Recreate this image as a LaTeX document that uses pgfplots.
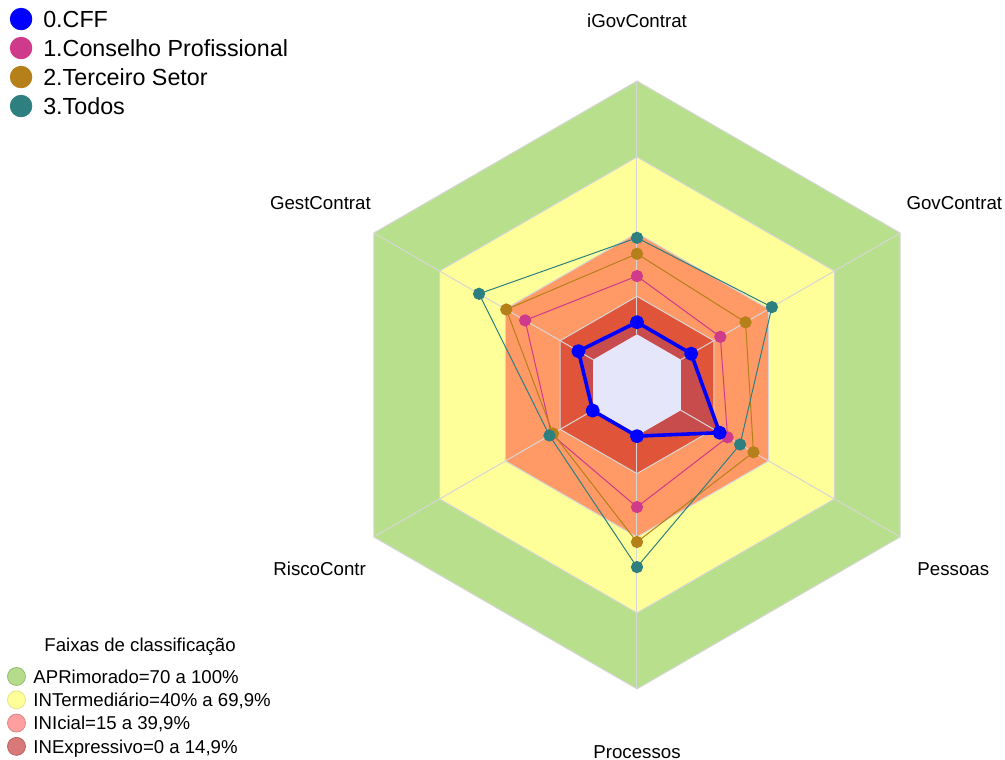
\documentclass[border=0pt]{standalone}
\usepackage{fontspec}
\setmainfont{Liberation Sans}
\usepackage{pgfplots}
\usepackage{pgfplotstable}
\usepgfplotslibrary{polar}
\pgfplotsset{compat=1.18}

\definecolor{cgreen}{HTML}{B8E08C}
\definecolor{cyellow}{HTML}{FFFF99}
\definecolor{corange}{HTML}{FF9966}
\definecolor{cdred}{HTML}{E0553A}
\definecolor{cfffill}{HTML}{C84C4C}
\definecolor{clav}{HTML}{E6E6FA}
\definecolor{cff}{HTML}{0000FF}
\definecolor{ccons}{HTML}{CF3A8A}
\definecolor{cterc}{HTML}{B5801A}
\definecolor{ctodos}{HTML}{2E8080}
\definecolor{cgrid}{HTML}{D6D6D6}
\definecolor{lgapr}{HTML}{B5DC8A}
\definecolor{lgint}{HTML}{FFFF99}
\definecolor{lgini}{HTML}{FF9E9E}
\definecolor{lginex}{HTML}{D87878}

% scores per axis (percent)
\pgfplotstableread{
ang  cff   cons  terc  todos
90   4.8   23.0  31.8  38.1
30   4.7   18.0  29.5  41.5
-30  17.7  21.3  33.1  27.0
-90  0.2   28.2  42.0  51.9
-150 0.2   19.0  18.3  19.9
150  6.7   31.0  39.6  52.0
}\scores

% band limits (percent)
\pgfplotstableread{
ang  apr  int  ini  inex zero
90   100  70   40   15   0
30   100  70   40   15   0
-30  100  70   40   15   0
-90  100  70   40   15   0
-150 100  70   40   15   0
150  100  70   40   15   0
}\bands

\begin{document}
\begin{tikzpicture}
\begin{axis}[
  x=1.2667pt, y=1.2667pt,
  xmin=-251.5, xmax=145.3, ymin=-148.0, ymax=152.0,
  hide axis, clip=false,
  legend cell align=left,
  legend style={at={(axis cs:-247.6,150.2)}, anchor=north west, draw=none, fill=none,
    inner sep=0pt, outer sep=0pt, row sep=0pt,
    font=\fontsize{11.65}{14}\selectfont,
    nodes={inner xsep=0pt, inner ysep=0.9pt, text height=10.5pt, text depth=2.2pt},
    /tikz/every odd column/.append style={column sep=5.5pt}},
]
\path (rel axis cs:0,0) rectangle (rel axis cs:1,1);

\addlegendimage{legend image code/.code={\fill[cff] (0pt,0pt) circle (5.4pt);}}
\addlegendentry{0.CFF}
\addlegendimage{legend image code/.code={\fill[ccons] (0pt,0pt) circle (5.4pt);}}
\addlegendentry{1.Conselho Profissional}
\addlegendimage{legend image code/.code={\fill[cterc] (0pt,0pt) circle (5.4pt);}}
\addlegendentry{2.Terceiro Setor}
\addlegendimage{legend image code/.code={\fill[ctodos] (0pt,0pt) circle (5.4pt);}}
\addlegendentry{3.Todos}

% bands
\addplot[fill=cgreen, draw=cgrid, line width=0.5pt, data cs=polar, forget plot]
  table[x=ang, y expr=\thisrow{apr}+20] {\bands} -- cycle;
\addplot[fill=cyellow, draw=cgrid, line width=0.5pt, data cs=polar, forget plot]
  table[x=ang, y expr=\thisrow{int}+20] {\bands} -- cycle;
\addplot[fill=corange, draw=cgrid, line width=0.5pt, data cs=polar, forget plot]
  table[x=ang, y expr=\thisrow{ini}+20] {\bands} -- cycle;
\addplot[fill=cdred, draw=cgrid, line width=0.5pt, data cs=polar, forget plot]
  table[x=ang, y expr=\thisrow{inex}+20] {\bands} -- cycle;
% CFF area
\addplot[fill=cfffill, draw=none, data cs=polar, forget plot]
  table[x=ang, y expr=\thisrow{cff}+20] {\scores} -- cycle;
% inner (below 0)
\addplot[fill=clav, draw=none, data cs=polar, forget plot]
  table[x=ang, y expr=\thisrow{zero}+20] {\bands} -- cycle;

% radial grid lines
\addplot[cgrid, line width=0.5pt, data cs=polar, forget plot] coordinates {(90,20) (90,120)};
\addplot[cgrid, line width=0.5pt, data cs=polar, forget plot] coordinates {(30,20) (30,120)};
\addplot[cgrid, line width=0.5pt, data cs=polar, forget plot] coordinates {(-30,20) (-30,120)};
\addplot[cgrid, line width=0.5pt, data cs=polar, forget plot] coordinates {(-90,20) (-90,120)};
\addplot[cgrid, line width=0.5pt, data cs=polar, forget plot] coordinates {(-150,20) (-150,120)};
\addplot[cgrid, line width=0.5pt, data cs=polar, forget plot] coordinates {(150,20) (150,120)};

% series
\addplot[ccons, line width=0.5pt, mark=*, mark size=2.8pt, mark options={fill=ccons, draw=none}, data cs=polar, forget plot]
  table[x=ang, y expr=\thisrow{cons}+20] {\scores} -- cycle;
\addplot[cterc, line width=0.5pt, mark=*, mark size=2.8pt, mark options={fill=cterc, draw=none}, data cs=polar, forget plot]
  table[x=ang, y expr=\thisrow{terc}+20] {\scores} -- cycle;
\addplot[ctodos, line width=0.5pt, mark=*, mark size=2.8pt, mark options={fill=ctodos, draw=none}, data cs=polar, forget plot]
  table[x=ang, y expr=\thisrow{todos}+20] {\scores} -- cycle;
\addplot[cff, line width=1.8pt, line join=round, mark=*, mark size=2.6pt, mark options={fill=cff, draw=none}, data cs=polar, forget plot]
  table[x=ang, y expr=\thisrow{cff}+20] {\scores} -- cycle;

% axis labels
\begin{scope}[every node/.style={font=\fontsize{9.35}{11}\selectfont, anchor=base, inner sep=0pt}]
\node at (axis cs:0,141.2) {iGovContrat};
\node at (axis cs:125.3,69.1) {GovContrat};
\node at (axis cs:124.9,-75.4) {Pessoas};
\node at (axis cs:0,-147.3) {Processos};
\node at (axis cs:-125.3,-75.4) {RiscoContr};
\node at (axis cs:-125.0,69.1) {GestContrat};
\end{scope}
\end{axis}

\begin{axis}[
  x=1.2667pt, y=1.2667pt,
  xmin=-251.5, xmax=145.3, ymin=-148.0, ymax=152.0,
  hide axis, clip=false,
  legend cell align=left,
  legend style={at={(axis cs:-248.7,-110.5)}, anchor=north west, draw=none, fill=none,
    inner sep=0pt, outer sep=0pt, row sep=0pt,
    font=\fontsize{9.3}{11}\selectfont,
    nodes={inner xsep=0pt, inner ysep=0.65pt, text height=8.5pt, text depth=1.85pt},
    /tikz/every odd column/.append style={column sep=3.8pt}},
]
\addlegendimage{legend image code/.code={\filldraw[fill=lgapr, draw=lgapr!85!black, line width=0.4pt] (0pt,0pt) circle (4.5pt);}}
\addlegendentry{APRimorado=70 a 100\%}
\addlegendimage{legend image code/.code={\filldraw[fill=lgint, draw=lgint!90!black, line width=0.4pt] (0pt,0pt) circle (4.5pt);}}
\addlegendentry{INTermediário=40\% a 69,9\%}
\addlegendimage{legend image code/.code={\filldraw[fill=lgini, draw=lgini!85!black, line width=0.4pt] (0pt,0pt) circle (4.5pt);}}
\addlegendentry{INIcial=15 a 39,9\%}
\addlegendimage{legend image code/.code={\filldraw[fill=lginex, draw=lginex!85!black, line width=0.4pt] (0pt,0pt) circle (4.5pt);}}
\addlegendentry{INExpressivo=0 a 14,9\%}
\node[anchor=base, inner sep=0pt, font=\fontsize{9.3}{11}\selectfont] at (axis cs:-196.2,-105.3) {Faixas de classificação};
\end{axis}
\end{tikzpicture}
\end{document}
